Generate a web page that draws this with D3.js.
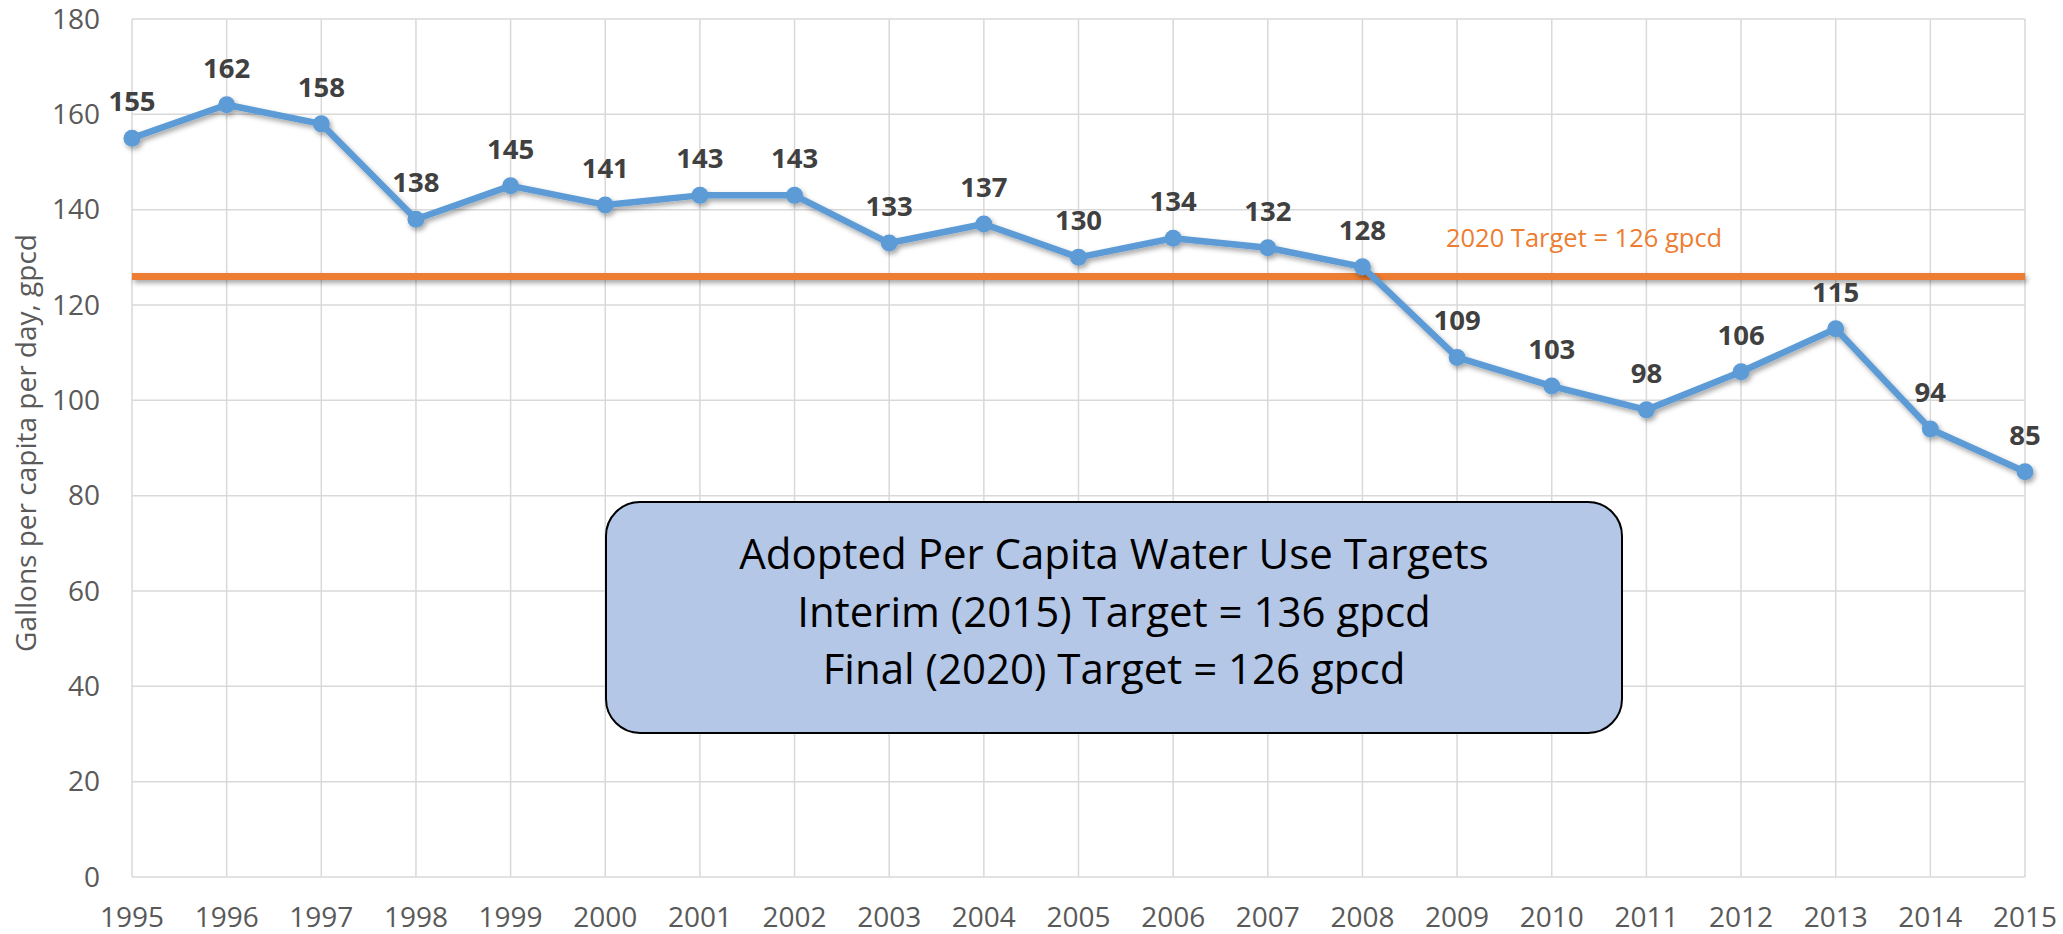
<!DOCTYPE html>
<html lang="en">
<head>
  <meta charset="UTF-8">
  <title>Gallons per capita per day</title>
  <script src="https://d3js.org/d3.v7.min.js"></script>
  <style>
    body { margin: 0; background: #fff; }
    text { font-family: "Open Sans", "Noto Sans", sans-serif; }
    .grid line { stroke: #d9d9d9; stroke-width: 1.5; }
    .tick-label { font-size: 28px; fill: #595959; }
    .data-label { font-size: 27.5px; font-weight: bold; fill: #404040; }
  </style>
</head>
<body>
  <svg width="2063" height="934"></svg>

  <script>
    // values
    const years = [1995, 1996, 1997, 1998, 1999, 2000, 2001, 2002, 2003, 2004, 2005,
                   2006, 2007, 2008, 2009, 2010, 2011, 2012, 2013, 2014, 2015];
    const gpcd = [155, 162, 158, 138, 145, 141, 143, 143, 133, 137, 130,
                  134, 132, 128, 109, 103, 98, 106, 115, 94, 85];
    const yTicks = [0, 20, 40, 60, 80, 100, 120, 140, 160, 180];
    const target2020 = 126;
    const targetLabel = "2020 Target = 126 gpcd";
    const boxLines = [
      "Adopted Per Capita Water Use Targets",
      "Interim (2015) Target = 136 gpcd",
      "Final (2020) Target = 126 gpcd"
    ];

    const data = years.map((y, i) => ({ year: y, value: gpcd[i] }));

    const margin = { top: 19, right: 38, bottom: 57, left: 132 },
          width  = 2063 - margin.left - margin.right,
          height = 934 - margin.top - margin.bottom;

    const svg = d3.select("svg");

    // drop shadow like the office chart (user space so a flat line still gets it)
    const defs = svg.append("defs");
    defs.append("filter").attr("id", "shadow")
      .attr("filterUnits", "userSpaceOnUse")
      .attr("x", -200).attr("y", -200).attr("width", 2400).attr("height", 1300)
      .append("feDropShadow")
      .attr("dx", 2).attr("dy", 3).attr("stdDeviation", 2.5)
      .attr("flood-color", "#000").attr("flood-opacity", 0.35);

    const g = svg.append("g")
      .attr("transform", `translate(${margin.left}, ${margin.top})`);

    const x = d3.scalePoint()
      .domain(years)
      .range([0, width]);

    const y = d3.scaleLinear()
      .domain([0, 180])
      .range([height, 0]);

    // gridlines
    g.append("g").attr("class", "grid")
      .selectAll("line")
      .data(yTicks)
      .join("line")
        .attr("x1", 0).attr("x2", width)
        .attr("y1", d => y(d)).attr("y2", d => y(d));

    g.append("g").attr("class", "grid")
      .selectAll("line")
      .data(years)
      .join("line")
        .attr("x1", d => x(d)).attr("x2", d => x(d))
        .attr("y1", 0).attr("y2", height);

    // y tick labels
    g.append("g")
      .selectAll("text")
      .data(yTicks)
      .join("text")
        .attr("class", "tick-label")
        .attr("x", -32)
        .attr("y", d => y(d))
        .attr("dy", "0.35em")
        .attr("text-anchor", "end")
        .text(d => d);

    // x tick labels
    g.append("g")
      .selectAll("text")
      .data(years)
      .join("text")
        .attr("class", "tick-label")
        .attr("x", d => x(d))
        .attr("y", height + 50)
        .attr("text-anchor", "middle")
        .text(d => d);

    // y axis title
    svg.append("text")
      .attr("transform", `translate(36, ${margin.top + height / 2 - 5}) rotate(-90)`)
      .attr("text-anchor", "middle")
      .style("font-size", "28px")
      .style("fill", "#595959")
      .text("Gallons per capita per day, gpcd");

    // 2020 target line
    g.append("line")
      .attr("x1", 0).attr("x2", width)
      .attr("y1", y(target2020)).attr("y2", y(target2020))
      .attr("stroke", "#ed7d31")
      .attr("stroke-width", 7)
      .attr("filter", "url(#shadow)");

    g.append("text")
      .attr("x", (x(2010) + x(2011)) / 2 - 15)
      .attr("y", y(target2020) - 29)
      .attr("text-anchor", "middle")
      .style("font-size", "25.5px")
      .style("fill", "#ed7d31")
      .text(targetLabel);

    // the gpcd series
    const line = d3.line()
      .x(d => x(d.year))
      .y(d => y(d.value));

    const series = g.append("g").attr("filter", "url(#shadow)");

    series.append("path")
      .datum(data)
      .attr("fill", "none")
      .attr("stroke", "#5b9bd5")
      .attr("stroke-width", 6.5)
      .attr("stroke-linejoin", "round")
      .attr("d", line);

    series.selectAll("circle")
      .data(data)
      .join("circle")
        .attr("cx", d => x(d.year))
        .attr("cy", d => y(d.value))
        .attr("r", 8.5)
        .attr("fill", "#5b9bd5");

    // data labels
    g.append("g")
      .selectAll("text")
      .data(data)
      .join("text")
        .attr("class", "data-label")
        .attr("x", d => x(d.year))
        .attr("y", d => y(d.value) - 27)
        .attr("text-anchor", "middle")
        .text(d => d.value);

    // annotation box
    const box = svg.append("g");
    box.append("rect")
      .attr("x", 606).attr("y", 502)
      .attr("width", 1016).attr("height", 231)
      .attr("rx", 34).attr("ry", 34)
      .attr("fill", "#b4c7e7")
      .attr("stroke", "#000")
      .attr("stroke-width", 2);

    box.selectAll("text")
      .data(boxLines)
      .join("text")
        .attr("x", 1114)
        .attr("y", (d, i) => 569 + i * 57.5)
        .attr("text-anchor", "middle")
        .style("font-size", "42px")
        .style("fill", "#000")
        .text(d => d);
  </script>
</body>
</html>
